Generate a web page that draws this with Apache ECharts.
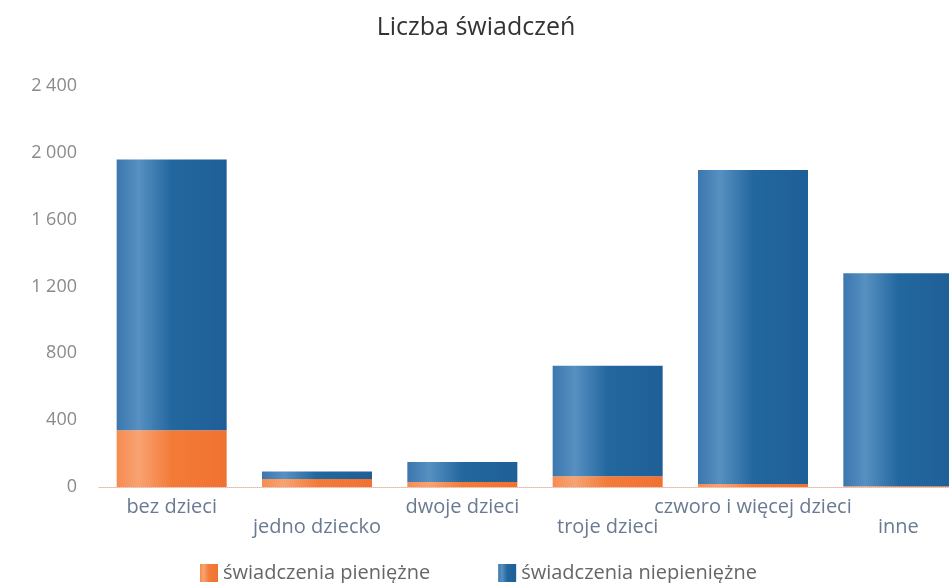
<!DOCTYPE html>
<html>
<head>
<meta charset="utf-8">
<script src="https://cdn.jsdelivr.net/npm/echarts@6/dist/echarts.min.js"></script>
<style>
  html, body { margin: 0; padding: 0; background: #fff; }
  #chart { width: 949px; height: 583px; }
</style>
</head>
<body>
<div id="chart"></div>
<script>
const categories = ['bez dzieci', 'jedno dziecko', 'dwoje dzieci', 'troje dzieci', 'czworo i więcej dzieci', 'inne']
const pieniezne = [340, 48, 30, 65, 18, 5]
const niepieniezne = [1620, 45, 120, 660, 1880, 1275]
const yTicks = [0, 400, 800, 1200, 1600, 2000, 2400]

const fmt = v => String(v).replace(/\B(?=(\d{3})+(?!\d))/g, ' ')

function cylinder(edge, light, base, dark) {
  return new echarts.graphic.LinearGradient(0, 0, 1, 0, [
    { offset: 0, color: edge },
    { offset: 0.2, color: light },
    { offset: 0.5, color: base },
    { offset: 1, color: dark }
  ])
}

const BLUE = cylinder('#3b77ae', '#5790c1', '#23679f', '#1f5f97')
const ORANGE = cylinder('#f68c50', '#f8a272', '#f47b37', '#f07232')

const chart = echarts.init(document.getElementById('chart'))
chart.setOption({
  animation: false,
  textStyle: { fontFamily: '"Open Sans", sans-serif' },
  title: {
    text: 'Liczba świadczeń',
    left: 471, top: 10, textAlign: 'center',
    textStyle: { fontSize: 25, fontWeight: 'normal', color: '#333', fontFamily: '"Open Sans", sans-serif' }
  },
  grid: { left: 99, top: 86, width: 872, bottom: 96, containLabel: false, outerBoundsMode: 'none' },
  legend: {
    left: 195, top: 558,
    itemWidth: 18, itemHeight: 18, itemGap: 68,
    icon: 'rect',
    textStyle: { fontSize: 20, color: '#666', padding: [0, 0, 0, 0] },
    data: ['świadczenia pieniężne', 'świadczenia niepieniężne']
  },
  xAxis: {
    type: 'category',
    data: categories,
    axisTick: { show: false },
    axisLine: { show: true, lineStyle: { color: '#e8b5a8', type: 'dotted', width: 1 } },
    axisLabel: {
      color: '#6a7a92', fontSize: 20, margin: 10, lineHeight: 20, interval: 0,
      formatter: (v, i) => (i % 2 ? '\n' + v : v)
    }
  },
  yAxis: {
    type: 'value',
    min: 0, max: 2400, interval: 400,
    axisLine: { show: false }, axisTick: { show: false },
    splitLine: { show: false },
    axisLabel: {
      color: '#8a8a8a', fontSize: 18, margin: 22,
      formatter: v => (yTicks.includes(v) ? fmt(v) : '')
    }
  },
  series: [
    {
      name: 'świadczenia pieniężne', type: 'bar', stack: 'total',
      barWidth: 110, data: pieniezne,
      itemStyle: { color: ORANGE }
    },
    {
      name: 'świadczenia niepieniężne', type: 'bar', stack: 'total',
      barWidth: 110, data: niepieniezne,
      itemStyle: { color: BLUE }
    }
  ]
})
</script>
</body>
</html>
